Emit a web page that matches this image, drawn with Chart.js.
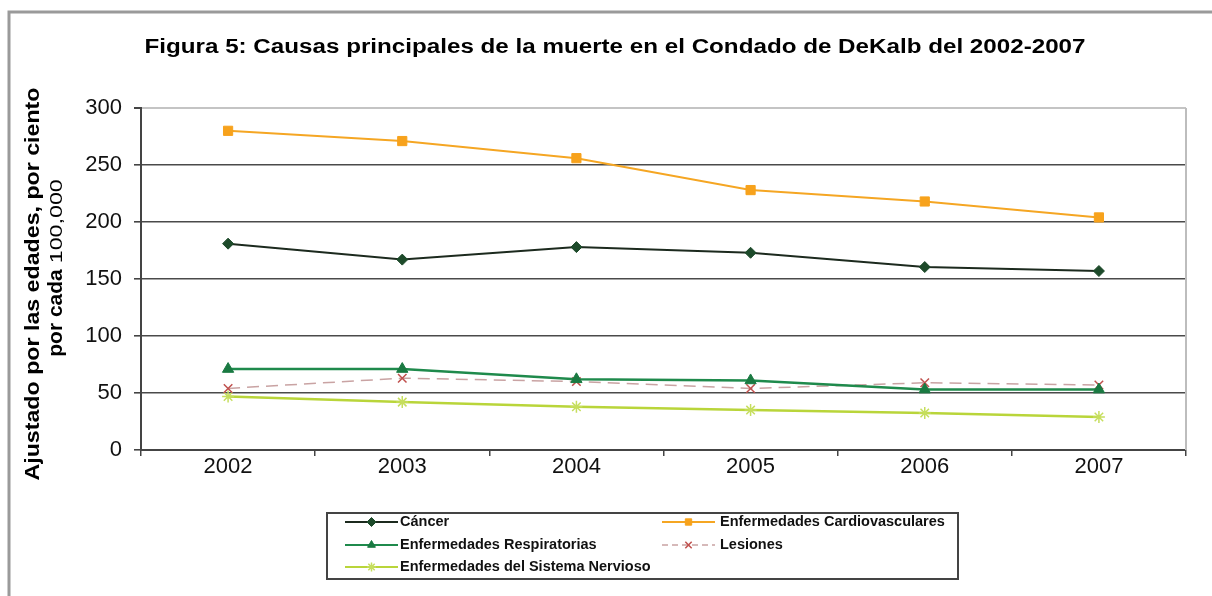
<!DOCTYPE html>
<html>
<head>
<meta charset="utf-8">
<script src="https://cdn.jsdelivr.net/npm/chart.js@4"></script>
<style>
  html, body { margin: 0; padding: 0; background: #fff; }
  #wrap { width: 1212px; height: 596px; }
</style>
</head>
<body>
<div id="wrap"><canvas id="c" width="1212" height="596"></canvas></div>
<script>
const years = ["2002", "2003", "2004", "2005", "2006", "2007"];
const cancer = [181, 167, 178, 173, 160.5, 157];
const cardio = [280, 271, 256, 228, 218, 204];
const respiratorias = [71, 71, 62, 61, 53, 53];
const lesiones = [54, 63, 60, 54, 59, 57];
const nervioso = [47, 42, 38, 35, 32.5, 29];
const seriesNames = ["Cáncer", "Enfermedades Cardiovasculares", "Enfermedades Respiratorias", "Lesiones", "Enfermedades del Sistema Nervioso"];
const yTicks = [0, 50, 100, 150, 200, 250, 300];
const titleText = "Figura 5: Causas principales de la muerte en el Condado de DeKalb del 2002-2007";
const yTitle1 = "Ajustado por las edades, por ciento";
const yTitle2a = "por cada";
const yTitle2b = "100,000";

const FONT = "'Liberation Sans', Arial, sans-serif";

// draw text centred at (cx, cy), stretched horizontally to a given width
function fitText(ctx, text, cx, cy, width, font) {
  ctx.save();
  ctx.font = font;
  ctx.textAlign = 'center';
  ctx.textBaseline = 'middle';
  const w = ctx.measureText(text).width;
  ctx.translate(cx, cy);
  ctx.scale(width / w, 1);
  ctx.fillText(text, 0, 0);
  ctx.restore();
}

const decor = {
  id: 'decor',
  beforeDraw(chart) {
    const ctx = chart.ctx;
    ctx.save();
    ctx.fillStyle = '#fff';
    ctx.fillRect(0, 0, chart.width, chart.height);
    ctx.strokeStyle = '#9a9a9a';
    ctx.lineWidth = 3;
    ctx.beginPath();
    ctx.moveTo(9, 596);
    ctx.lineTo(9, 12);
    ctx.lineTo(1212, 12);
    ctx.stroke();
    ctx.restore();
  },
  afterDraw(chart) {
    const ctx = chart.ctx;
    const area = chart.chartArea;
    ctx.save();
    ctx.strokeStyle = '#bdbdbd';
    ctx.lineWidth = 2;
    ctx.beginPath();
    ctx.moveTo(area.right, area.top);
    ctx.lineTo(area.right, area.bottom);
    ctx.stroke();

    ctx.fillStyle = '#000';
    fitText(ctx, titleText, 615, 47, 941, "bold 20px " + FONT);

    // y axis title (rotated)
    ctx.save();
    ctx.translate(33, 284);
    ctx.rotate(-Math.PI / 2);
    fitText(ctx, yTitle1, 0, 0, 393, "bold 21px " + FONT);
    ctx.restore();

    ctx.save();
    ctx.translate(56, 0);
    ctx.rotate(-Math.PI / 2);
    // rotated frame: x = -y(canvas)
    ctx.font = "bold 21px " + FONT;
    const wa = ctx.measureText(yTitle2a).width;
    const gap = 6, wb = 84;
    const start = -268 - (wa + gap + wb) / 2;
    fitText(ctx, yTitle2a, start + wa / 2, 0, wa, "bold 21px " + FONT);
    fitText(ctx, yTitle2b, start + wa + gap + wb / 2, 1, wb, "17px " + FONT);
    ctx.restore();

    // legend
    ctx.strokeStyle = '#444';
    ctx.lineWidth = 2;
    ctx.strokeRect(327, 513, 631, 66);
    const pos = [[345, 522], [662, 522], [345, 545], [662, 545], [345, 567]];
    chart.data.datasets.forEach((ds, i) => {
      const [x, y] = pos[i];
      ctx.save();
      ctx.strokeStyle = ds.borderColor;
      ctx.lineWidth = Math.min(ds.borderWidth, 2);
      ctx.setLineDash(ds.borderDash ? [6, 4] : []);
      ctx.beginPath();
      ctx.moveTo(x, y);
      ctx.lineTo(x + 53, y);
      ctx.stroke();
      ctx.setLineDash([]);
      ctx.fillStyle = ds.pointBackgroundColor;
      ctx.strokeStyle = ds.pointBorderColor;
      ctx.lineWidth = ds.pointBorderWidth || 1;
      Chart.helpers.drawPoint(ctx, {
        pointStyle: ds.pointStyle,
        radius: 4.5,
        rotation: 0,
        borderWidth: ds.pointBorderWidth || 1
      }, x + 26.5, y);
      ctx.restore();
      ctx.fillStyle = '#111';
      ctx.font = "bold 14.5px " + FONT;
      ctx.textAlign = 'left';
      ctx.textBaseline = 'middle';
      ctx.fillText(ds.label, i % 2 === 0 ? x + 55 : x + 58, y);
    });
    ctx.restore();
  }
};

const mk = (label, data, color, ptColor, style, radius, width, extra) => Object.assign({
  label, data,
  borderColor: color,
  backgroundColor: ptColor,
  pointBackgroundColor: ptColor,
  pointBorderColor: ptColor,
  pointStyle: style,
  pointRadius: radius,
  pointHoverRadius: radius,
  pointBorderWidth: 1,
  borderWidth: width,
  tension: 0
}, extra || {});

new Chart(document.getElementById('c'), {
  type: 'line',
  data: {
    labels: years,
    datasets: [
      mk(seriesNames[0], cancer, '#1c2a1e', '#1d4a2a', 'rectRot', 5.5, 2),
      mk(seriesNames[1], cardio, '#f5a623', '#f7a21c', 'rect', 6.5, 2),
      mk(seriesNames[2], respiratorias, '#1f8a4c', '#1a7a42', 'triangle', 6.5, 2.5),
      mk(seriesNames[3], lesiones, '#c9a3a3', '#c0504d', 'crossRot', 6, 1.5, { borderDash: [12, 7], pointBorderWidth: 1.5 }),
      mk(seriesNames[4], nervioso, '#b9d53a', '#c6de5e', 'star', 6, 2.5, { pointBorderWidth: 1.5 })
    ]
  },
  options: {
    responsive: false,
    animation: false,
    devicePixelRatio: 1,
    layout: { padding: { left: 70, right: 26, top: 108, bottom: 0 } },
    plugins: { legend: { display: false }, title: { display: false }, tooltip: { enabled: false } },
    scales: {
      x: {
        type: 'category',
        offset: true,
        afterFit(s) { s.height = 146; },
        grid: { offset: true, drawOnChartArea: false, drawTicks: true, tickLength: 6, tickColor: '#444', lineWidth: 1.5 },
        border: { display: true, color: '#444', width: 2 },
        ticks: { color: '#111', font: { family: FONT, size: 22 }, padding: -2, maxRotation: 0 }
      },
      y: {
        min: 0, max: 300,
        afterFit(s) { s.width = 71; },
        afterBuildTicks(s) { s.ticks = yTicks.map(v => ({ value: v })); },
        grid: {
          color: ctx => ctx.tick && ctx.tick.value === 300 ? '#c4c4c4' : '#4a4a4a',
          lineWidth: ctx => ctx.tick && ctx.tick.value === 300 ? 2 : 1.6,
          tickLength: 7, drawTicks: true, tickColor: '#444'
        },
        border: { display: true, color: '#444', width: 2 },
        ticks: { color: '#111', font: { family: FONT, size: 22 }, padding: 12 }
      }
    }
  },
  plugins: [decor]
});
</script>
</body>
</html>
